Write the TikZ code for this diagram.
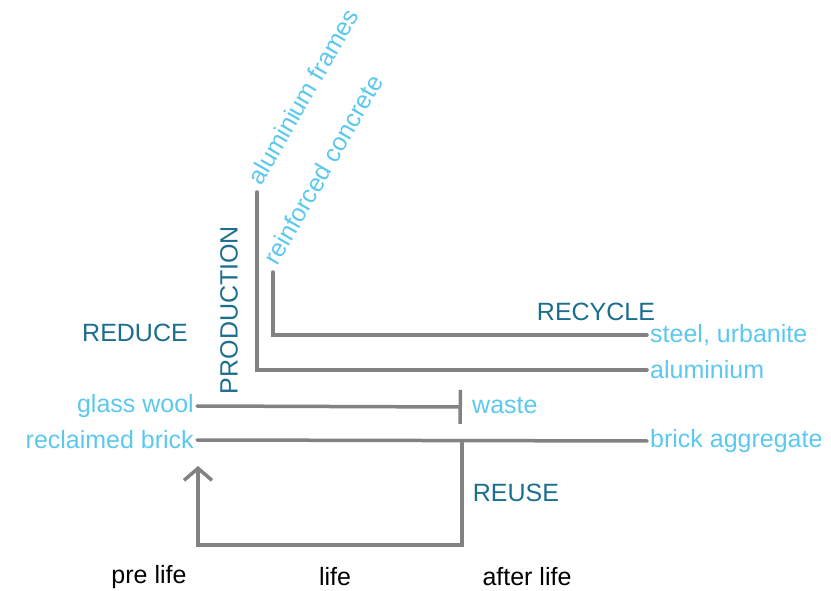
\documentclass[tikz,border=0pt]{standalone}
\usepackage{fontspec}
\setmainfont{Liberation Sans}
\usepackage{tikz}
\usetikzlibrary{calc, positioning, arrows.meta}
\definecolor{matblue}{HTML}{5BC8EE}
\definecolor{stepteal}{HTML}{1B6E8E}
\definecolor{flowgray}{HTML}{828282}
\tikzstyle{material}=[text=matblue, font=\fontsize{25}{30}\selectfont, inner sep=3pt]
\tikzstyle{stage}=[text=stepteal, font=\fontsize{25}{30}\selectfont, inner sep=0pt]
\tikzstyle{phase}=[text=black, font=\fontsize{25}{30}\selectfont, inner sep=0pt]
\tikzstyle{flow}=[draw=flowgray, line width=3.5pt, line cap=round]

\begin{document}
\begin{tikzpicture}[x=1pt,y=1pt]
			\useasboundingbox (0,0) rectangle (831,590);
			\coordinate (frametop) at (257,398);
			\coordinate (concretetop) at (273,318);
			\coordinate (tee) at (462,183);
			\coordinate (split) at (462,147);
			\coordinate (reuseend) at (198,124);

			\node[material, rotate=60, anchor=west] (frames) at (252,405) {aluminium frames};
			\node[material, rotate=60, anchor=west] (concrete) at (268,325) {reinforced concrete};
			\node[material, anchor=west] (steel) at (647,255) {steel, urbanite};
			\node[material, anchor=west] (aluminium) at (647,220) {aluminium};
			\node[material, anchor=west] (waste) at (469,184) {waste};
			\node[material, anchor=west] (aggregate) at (647,149) {brick aggregate};
			\node[material, anchor=east] (glasswool) at (197,184) {glass wool};
			\node[material, anchor=east] (reclaimed) at (197,150) {reclaimed brick};

			\node[stage] (reduce) at (135,257) {REDUCE};
			\node[stage, rotate=90] (production) at (229,280) {PRODUCTION};
			\node[stage] (recycle) at (596,278) {RECYCLE};
			\node[stage] (reuse) at (516,97) {REUSE};

			\node[phase] (prelife) at (149,13) {pre life};
			\node[phase] (life) at (335,13) {life};
			\node[phase] (afterlife) at (527,13) {after life};

			\draw[flow] (frametop) |- (aluminium.west);
			\draw[flow] (concretetop) |- (steel.west);
			\draw[flow, -{Bar[width=34pt]}] (glasswool.east) -- (tee);
			\draw[flow] (reclaimed.east) -- (aggregate.west);
			\draw[flow, -{Straight Barb[length=12pt, width=28pt]}] (split) -- ++(0,-102) -| (reuseend);
		\end{tikzpicture}
\end{document}
